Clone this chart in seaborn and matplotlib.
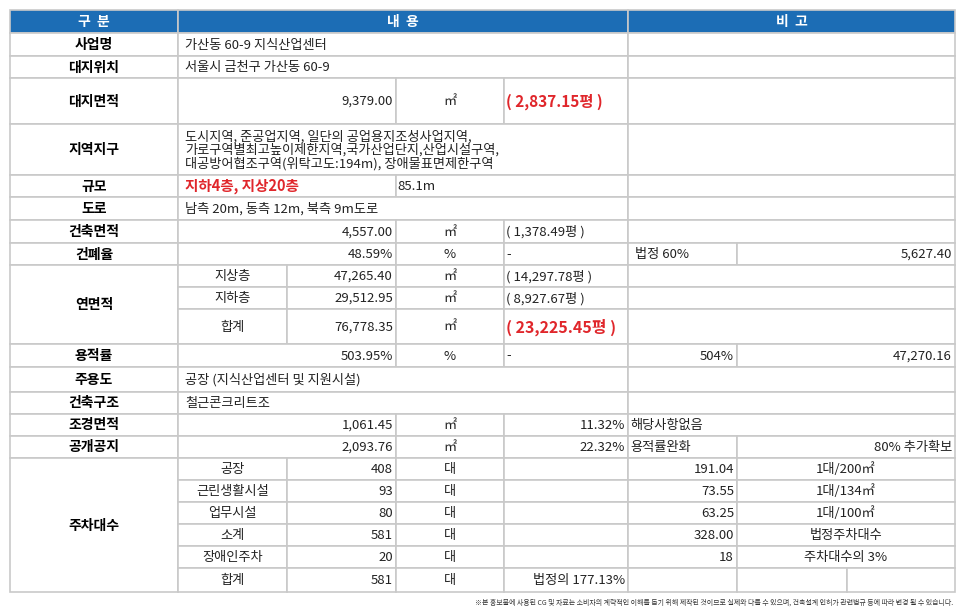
import matplotlib.pyplot as plt
import seaborn as sns
from matplotlib.patches import Rectangle

sns.set_theme(style="white")
plt.rcParams["font.family"] = ["Noto Sans CJK KR", "Noto Sans CJK JP", "Noto Sans CJK SC",
                               "DejaVu Sans"]

# 표 데이터
headers = ["구  분", "내  용", "비  고"]
labels = ["사업명", "대지위치", "대지면적", "지역지구", "규모", "도로", "건축면적", "건폐율",
          "연면적", "용적률", "주용도", "건축구조", "조경면적", "공개공지", "주차대수"]
site_name = "가산동 60-9 지식산업센터"
site_addr = "서울시 금천구 가산동 60-9"
site_area = ["9,379.00", "㎡", "( 2,837.15평 )"]
zone_text = "도시지역, 준공업지역, 일단의 공업용지조성사업지역,\n가로구역별최고높이제한지역,국가산업단지,산업시설구역,\n대공방어협조구역(위탁고도:194m), 장애물표면제한구역"
scale = ["지하4층, 지상20층", "85.1m"]
road = "남측 20m, 동측 12m, 북측 9m도로"
build_area = ["4,557.00", "㎡", "( 1,378.49평 )"]
bcr = ["48.59%", "%", "-", "법정 60%", "5,627.40"]
floor_names = ["지상층", "지하층", "합계"]
floor_vals = ["47,265.40", "29,512.95", "76,778.35"]
floor_pyeong = ["( 14,297.78평 )", "( 8,927.67평 )", "( 23,225.45평 )"]
far = ["503.95%", "%", "-", "504%", "47,270.16"]
use = "공장 (지식산업센터 및 지원시설)"
structure = "철근콘크리트조"
landscape = ["1,061.45", "㎡", "11.32%", "해당사항없음"]
open_space = ["2,093.76", "㎡", "22.32%", "용적률완화", "80% 추가확보"]
park_names = ["공장", "근린생활시설", "업무시설", "소계", "장애인주차", "합계"]
park_counts = ["408", "93", "80", "581", "20", "581"]
park_note = ["", "", "", "", "", "법정의 177.13%"]
park_legal = ["191.04", "73.55", "63.25", "328.00", "18", ""]
park_rule = ["1대/200㎡", "1대/134㎡", "1대/100㎡", "법정주차대수", "주차대수의 3%", ""]
footnote = "※본 홍보물에 사용된 CG 및 자료는 소비자의 계략적인 이해를 돕기 위해 제작된 것이므로 실제와 다를 수 있으며, 건축설계 인허가 관련법규 등에 따라 변경 될 수 있습니다."

# 레이아웃 (픽셀)
X = [10, 178, 287, 396, 504, 628, 737, 847, 955]
rows_y = [10, 33, 56, 78, 124, 175, 197, 220, 243, 265, 287, 309, 344, 367, 392, 414, 436, 458,
          480, 502, 524, 546, 568, 592]
GRID = "#c9c9c9"
BLUE = "#1c6db5"
RED = "#e0262b"
TXT = "#222222"

fig = plt.figure(figsize=(9.66, 6.13), dpi=100)
ax = fig.add_axes([0, 0, 1, 1])
ax.set_xlim(0, 966)
ax.set_ylim(613, 0)
ax.axis("off")


def cell(x0, x1, y0, y1, text="", align="left", color=TXT, bold=False, size=9.5, fill="white"):
    ax.add_patch(Rectangle((x0, y0), x1 - x0, y1 - y0, facecolor=fill, edgecolor=GRID, lw=1.2))
    if not text:
        return
    if align == "left":
        tx, ha = x0 + 7, "left"
    elif align == "right":
        tx, ha = x1 - 3, "right"
    else:
        tx, ha = (x0 + x1) / 2, "center"
    ax.text(tx, (y0 + y1) / 2 + 0.5, text, ha=ha, va="center", color=color, fontsize=size,
            fontweight="bold" if bold else "normal", linespacing=1.0)


def label(i, y0, y1):
    cell(X[0], X[1], y0, y1, labels[i], "center", "black", True, 10)


# 헤더
cell(X[0], X[1], rows_y[0], rows_y[1], headers[0], "center", "white", True, 10, BLUE)
cell(X[1], X[5], rows_y[0], rows_y[1], headers[1], "center", "white", True, 10, BLUE)
cell(X[5], X[8], rows_y[0], rows_y[1], headers[2], "center", "white", True, 10, BLUE)

r = rows_y
label(0, r[1], r[2]); cell(X[1], X[5], r[1], r[2], site_name); cell(X[5], X[8], r[1], r[2])
label(1, r[2], r[3]); cell(X[1], X[5], r[2], r[3], site_addr); cell(X[5], X[8], r[2], r[3])
label(2, r[3], r[4])
cell(X[1], X[3], r[3], r[4], site_area[0], "right")
cell(X[3], X[4], r[3], r[4], site_area[1], "center")
cell(X[4], X[5], r[3], r[4], site_area[2], "left", RED, True, 11)
ax.texts[-1].set_x(X[4] + 2)
cell(X[5], X[8], r[3], r[4])
label(3, r[4], r[5]); cell(X[1], X[5], r[4], r[5], zone_text); cell(X[5], X[8], r[4], r[5])
label(4, r[5], r[6])
cell(X[1], X[3], r[5], r[6], scale[0], "left", RED, True, 10.5)
cell(X[3], X[5], r[5], r[6], scale[1], "left")
ax.texts[-1].set_x(X[3] + 1)
cell(X[5], X[8], r[5], r[6])
label(5, r[6], r[7]); cell(X[1], X[5], r[6], r[7], road); cell(X[5], X[8], r[6], r[7])
label(6, r[7], r[8])
cell(X[1], X[3], r[7], r[8], build_area[0], "right")
cell(X[3], X[4], r[7], r[8], build_area[1], "center")
cell(X[4], X[5], r[7], r[8], build_area[2], "left")
ax.texts[-1].set_x(X[4] + 2)
cell(X[5], X[8], r[7], r[8])
label(7, r[8], r[9])
cell(X[1], X[3], r[8], r[9], bcr[0], "right")
cell(X[3], X[4], r[8], r[9], bcr[1], "center")
cell(X[4], X[5], r[8], r[9], bcr[2], "left")
ax.texts[-1].set_x(X[4] + 2)
cell(X[5], X[6], r[8], r[9], bcr[3], "left")
cell(X[6], X[8], r[8], r[9], bcr[4], "right")

# 연면적
label(8, r[9], r[12])
for k in range(3):
    y0, y1 = r[9 + k], r[10 + k]
    cell(X[1], X[2], y0, y1, floor_names[k], "center")
    cell(X[2], X[3], y0, y1, floor_vals[k], "right")
    cell(X[3], X[4], y0, y1, "㎡", "center")
    if k == 2:
        cell(X[4], X[5], y0, y1, floor_pyeong[k], "left", RED, True, 11.5)
    else:
        cell(X[4], X[5], y0, y1, floor_pyeong[k], "left")
    ax.texts[-1].set_x(X[4] + 2)
    cell(X[5], X[8], y0, y1)

label(9, r[12], r[13])
cell(X[1], X[3], r[12], r[13], far[0], "right")
cell(X[3], X[4], r[12], r[13], far[1], "center")
cell(X[4], X[5], r[12], r[13], far[2], "left")
ax.texts[-1].set_x(X[4] + 2)
cell(X[5], X[6], r[12], r[13], far[3], "right")
cell(X[6], X[8], r[12], r[13], far[4], "right")
label(10, r[13], r[14]); cell(X[1], X[5], r[13], r[14], use); cell(X[5], X[8], r[13], r[14])
label(11, r[14], r[15]); cell(X[1], X[5], r[14], r[15], structure); cell(X[5], X[8], r[14], r[15])
label(12, r[15], r[16])
cell(X[1], X[3], r[15], r[16], landscape[0], "right")
cell(X[3], X[4], r[15], r[16], landscape[1], "center")
cell(X[4], X[5], r[15], r[16], landscape[2], "right")
cell(X[5], X[8], r[15], r[16], landscape[3], "left")
ax.texts[-1].set_x(X[5] + 2)
label(13, r[16], r[17])
cell(X[1], X[3], r[16], r[17], open_space[0], "right")
cell(X[3], X[4], r[16], r[17], open_space[1], "center")
cell(X[4], X[5], r[16], r[17], open_space[2], "right")
cell(X[5], X[6], r[16], r[17], open_space[3], "left")
ax.texts[-1].set_x(X[5] + 2)
cell(X[6], X[8], r[16], r[17], open_space[4], "right")

# 주차대수
label(14, r[17], r[23])
for k in range(6):
    y0, y1 = r[17 + k], r[18 + k]
    cell(X[1], X[2], y0, y1, park_names[k], "center")
    cell(X[2], X[3], y0, y1, park_counts[k], "right")
    cell(X[3], X[4], y0, y1, "대", "center")
    cell(X[4], X[5], y0, y1, park_note[k], "right")
    cell(X[5], X[6], y0, y1, park_legal[k], "right")
    if k == 5:
        cell(X[6], X[7], y0, y1)
        cell(X[7], X[8], y0, y1)
    else:
        cell(X[6], X[8], y0, y1, park_rule[k], "center")

ax.text(953, 603, footnote, ha="right", va="center", fontsize=5, color="#333333")

fig.savefig("out.png", dpi=100)
